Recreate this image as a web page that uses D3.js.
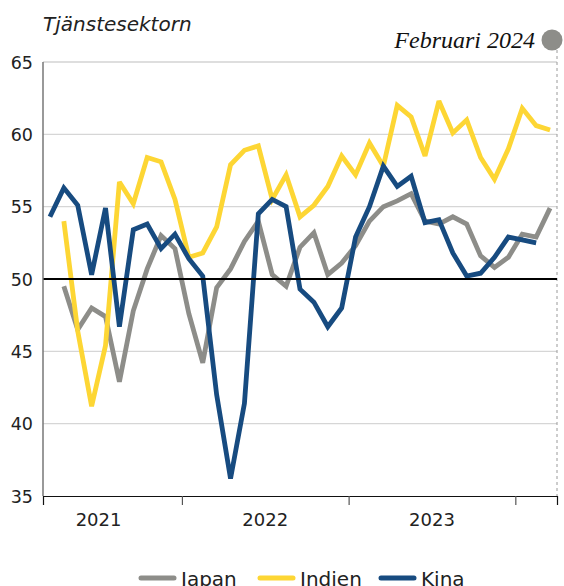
<!DOCTYPE html>
<html>
<head>
<meta charset="utf-8">
<script src="https://cdn.jsdelivr.net/npm/d3@7"></script>
<style>
  body { margin: 0; background: #fff; }
  svg { display: block; }
</style>
</head>
<body>
<svg id="chart" width="564" height="586"></svg>
<script>
// monthly PMI, services sector
const kinaStart = 2   // March 2021, months from Jan 2021
const kina = [54.3, 56.3, 55.1, 50.3, 54.9, 46.7, 53.4, 53.8, 52.1, 53.1,
    51.4, 50.2, 42.0, 36.2, 41.4, 54.5, 55.5, 55.0, 49.3, 48.4, 46.7, 48.0,
    52.9, 55.0, 57.8, 56.4, 57.1, 53.9, 54.1, 51.8, 50.2, 50.4, 51.5, 52.9,
    52.7, 52.5]

const otherStart = 3  // April 2021
const japan = [49.5, 46.5, 48.0, 47.4, 42.9, 47.8, 50.7, 53.0, 52.1,
    47.6, 44.2, 49.4, 50.7, 52.6, 54.0, 50.3, 49.5, 52.2, 53.2, 50.3, 51.1,
    52.3, 54.0, 55.0, 55.4, 55.9, 54.0, 53.8, 54.3, 53.8, 51.6, 50.8, 51.5,
    53.1, 52.9, 54.9]
const indien = [54.0, 46.4, 41.2, 45.4, 56.7, 55.2, 58.4, 58.1, 55.5,
    51.5, 51.8, 53.6, 57.9, 58.9, 59.2, 55.5, 57.2, 54.3, 55.1, 56.4, 58.5,
    57.2, 59.4, 57.8, 62.0, 61.2, 58.5, 62.3, 60.1, 61.0, 58.4, 56.9, 59.0,
    61.8, 60.6, 60.3]

const yTicks = [35, 40, 45, 50, 55, 60, 65]
const years = ['2021', '2022', '2023']
const yearTicks = [12, 24, 36]

const seriesNames = ['Japan', 'Indien', 'Kina']
const colors = { Japan: '#8d8d89', Indien: '#fdd634', Kina: '#174b80' }

const series = [
    { name: 'Japan', start: otherStart, values: japan },
    { name: 'Indien', start: otherStart, values: indien },
    { name: 'Kina', start: kinaStart, values: kina }
]

const svg = d3.select('#chart')
const font = "'DejaVu Sans', sans-serif"

const x = d3.scaleLinear().domain([2, 39]).range([43, 557])
const y = d3.scaleLinear().domain([35, 65]).range([496, 62])

// grid
svg.append('g').selectAll('line')
    .data(yTicks.filter(d => d != 35 && d != 50))
    .enter().append('line')
    .attr('x1', x(2)).attr('x2', x(39))
    .attr('y1', d => y(d)).attr('y2', d => y(d))
    .attr('stroke', d => d == 65 ? '#bdbdbd' : '#d6d6d6')
    .attr('stroke-width', 1.2)

// y labels
svg.append('g').selectAll('text')
    .data(yTicks)
    .enter().append('text')
    .attr('x', 33).attr('y', d => y(d) + 6.5)
    .attr('text-anchor', 'end')
    .attr('font-family', font).attr('font-size', 17.5)
    .attr('fill', '#222')
    .text(d => d)

// right dashed marker
svg.append('line')
    .attr('x1', x(39)).attr('x2', x(39))
    .attr('y1', 50).attr('y2', y(35))
    .attr('stroke', '#9a9a9a').attr('stroke-width', 1)
    .attr('stroke-dasharray', '3,3')

svg.append('circle')
    .attr('cx', 552).attr('cy', 40).attr('r', 10.5)
    .attr('fill', '#8d8d89')

// lines
const line = d3.line()
    .x(d => x(d.m + 0.5))
    .y(d => y(d.v))

svg.append('g').selectAll('path')
    .data(series)
    .enter().append('path')
    .attr('d', s => line(s.values.map((v, i) => ({ m: s.start + i, v: v }))))
    .attr('fill', 'none')
    .attr('stroke', s => colors[s.name])
    .attr('stroke-width', 4.8)
    .attr('stroke-linejoin', 'miter')
    .attr('stroke-miterlimit', 3)

// 50-line
svg.append('line')
    .attr('x1', x(2)).attr('x2', x(39))
    .attr('y1', y(50)).attr('y2', y(50))
    .attr('stroke', '#000').attr('stroke-width', 2.2)

// axes
svg.append('line')
    .attr('x1', x(2)).attr('x2', x(2))
    .attr('y1', y(65)).attr('y2', y(35))
    .attr('stroke', '#777').attr('stroke-width', 1.5)

const xAxis = d3.axisBottom(x)
    .tickValues(yearTicks)
    .tickSize(9)
    .tickFormat('')

const gx = svg.append('g')
    .attr('transform', `translate(0,${y(35)})`)
    .call(xAxis)
gx.select('.domain').attr('stroke', '#111').attr('stroke-width', 1.2)
gx.selectAll('.tick line').attr('stroke', '#555').attr('stroke-width', 1.2)

svg.append('g').selectAll('text')
    .data(years)
    .enter().append('text')
    .attr('x', (d, i) => x(6 + 12 * i))
    .attr('y', 526)
    .attr('text-anchor', 'middle')
    .attr('font-family', font).attr('font-size', 18)
    .attr('fill', '#222')
    .text(d => d)

// titles
svg.append('text')
    .attr('x', 43).attr('y', 31)
    .attr('font-family', font).attr('font-size', 20)
    .attr('font-style', 'italic').attr('fill', '#222')
    .text('Tjänstesektorn')

svg.append('text')
    .attr('x', 535).attr('y', 48)
    .attr('text-anchor', 'end')
    .attr('font-family', "'Liberation Serif', serif").attr('font-size', 24)
    .attr('font-style', 'italic').attr('fill', '#111')
    .text('Februari 2024')

// legend
const legendX = [139, 258, 379]
const legend = svg.append('g').selectAll('g')
    .data(seriesNames)
    .enter().append('g')
    .attr('transform', (d, i) => `translate(${legendX[i]},578)`)

legend.append('line')
    .attr('x1', 2).attr('x2', 35)
    .attr('stroke', d => colors[d])
    .attr('stroke-width', 5)
    .attr('stroke-linecap', 'round')

legend.append('text')
    .attr('x', 42).attr('y', 7.5)
    .attr('font-family', font).attr('font-size', 20)
    .attr('fill', '#222')
    .text(d => d)
</script>
</body>
</html>
